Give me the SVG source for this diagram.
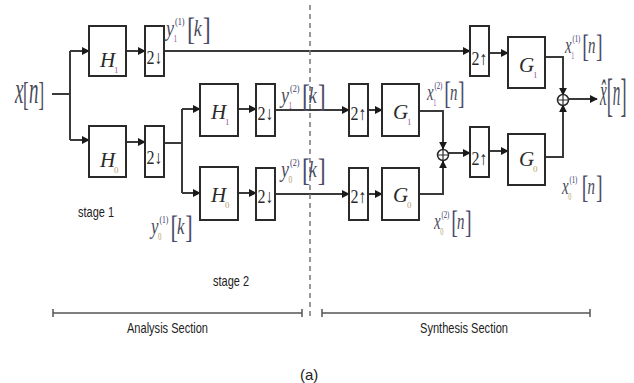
<svg xmlns="http://www.w3.org/2000/svg" width="634" height="383" viewBox="0 0 634 383">
<defs>
<style>
.box{fill:#fff;stroke:#2a2a2a;stroke-width:2}
.ln{fill:none;stroke:#3a3a3a;stroke-width:2}
.sec{fill:none;stroke:#555;stroke-width:1.5}
.H{font-family:"Liberation Serif",serif;font-style:italic;font-size:21px;fill:#2a2a2a}
.sub1{font-family:"Liberation Serif",serif;font-size:9px;fill:#a060a8}
.sub0{font-family:"Liberation Serif",serif;font-size:9px;fill:#b8a070}
.rt{font-family:"Liberation Serif","DejaVu Serif",serif;font-size:19px;fill:#2a2a2a}
.lb{font-family:"Liberation Serif",serif;fill:#4a4a5a}
.it{font-style:italic;font-size:24px}
.bit{font-style:italic;font-size:38px}
.s1{font-size:10px;fill:#a060a8}
.s0{font-size:10px;fill:#b8a070}
.sp{font-size:11px;fill:#3a3a6a}
.bk{font-size:32px;fill:#4a4a6a}
.txt{font-family:"Liberation Sans",sans-serif;font-size:15px;fill:#222}
</style>
<marker id="ar" viewBox="0 0 10 10" refX="9" refY="5" markerWidth="4" markerHeight="4" orient="auto-start-reverse" markerUnits="strokeWidth">
<path d="M0,0 L10,5 L0,10 z" fill="#1a1a1a"/>
</marker>
</defs>
<rect width="634" height="383" fill="#fff"/>

<g id="connectors">
<path class="ln" d="M52,94 H70 M70,51 V140"/>
<path class="ln" d="M70,51 H89" marker-end="url(#ar)"/>
<path class="ln" d="M126,51 H145" marker-end="url(#ar)"/>
<path class="ln" d="M164,51 H470" marker-end="url(#ar)"/>
<path class="ln" d="M489,53 H508" marker-end="url(#ar)"/>
<path class="ln" d="M545,57 H563 V95" marker-end="url(#ar)"/>
<path class="ln" d="M568,99 H597" marker-end="url(#ar)"/>
<path class="ln" d="M70,140 H89" marker-end="url(#ar)"/>
<path class="ln" d="M126,142 H145" marker-end="url(#ar)"/>
<path class="ln" d="M164,143 H182 M182,109 V193"/>
<path class="ln" d="M182,109 H200" marker-end="url(#ar)"/>
<path class="ln" d="M238,109 H256" marker-end="url(#ar)"/>
<path class="ln" d="M275,110 H349" marker-end="url(#ar)"/>
<path class="ln" d="M368,110 H382" marker-end="url(#ar)"/>
<path class="ln" d="M419,111 H443 V149" marker-end="url(#ar)"/>
<path class="ln" d="M182,193 H200" marker-end="url(#ar)"/>
<path class="ln" d="M238,193 H256" marker-end="url(#ar)"/>
<path class="ln" d="M275,194 H349" marker-end="url(#ar)"/>
<path class="ln" d="M368,194 H382" marker-end="url(#ar)"/>
<path class="ln" d="M419,194 H443 V161" marker-end="url(#ar)"/>
<path class="ln" d="M448,153 H470" marker-end="url(#ar)"/>
<path class="ln" d="M489,151 H508" marker-end="url(#ar)"/>
<path class="ln" d="M545,157 H563 V105" marker-end="url(#ar)"/>
</g>

<line x1="310" y1="5" x2="310" y2="316" stroke="#777" stroke-width="1.5" stroke-dasharray="5 4"/>

<g id="H1a"><rect class="box" x="89" y="26" width="37" height="50"/><text class="H" x="100" y="67">H</text><text class="sub1" x="114" y="73">1</text></g>
<g id="D1a"><rect class="box" x="145" y="26" width="19" height="50"/><text class="rt" x="146.5" y="64" textLength="16" lengthAdjust="spacingAndGlyphs">2↓</text></g>
<g id="H0a"><rect class="box" x="89" y="126" width="37" height="51"/><text class="H" x="100" y="167">H</text><text class="sub0" x="114" y="173">0</text></g>
<g id="D0a"><rect class="box" x="145" y="126" width="19" height="51"/><text class="rt" x="146.5" y="164" textLength="16" lengthAdjust="spacingAndGlyphs">2↓</text></g>
<g id="H1b"><rect class="box" x="200" y="84" width="38" height="52"/><text class="H" x="211" y="119">H</text><text class="sub1" x="225" y="125">1</text></g>
<g id="D1b"><rect class="box" x="256" y="84" width="19" height="52"/><text class="rt" x="257.5" y="120" textLength="16" lengthAdjust="spacingAndGlyphs">2↓</text></g>
<g id="H0b"><rect class="box" x="200" y="167" width="38" height="53"/><text class="H" x="211" y="202">H</text><text class="sub0" x="225" y="208">0</text></g>
<g id="D0b"><rect class="box" x="256" y="168" width="19" height="52"/><text class="rt" x="257.5" y="203" textLength="16" lengthAdjust="spacingAndGlyphs">2↓</text></g>
<g id="U1b"><rect class="box" x="349" y="84" width="19" height="52"/><text class="rt" x="350.5" y="120" textLength="16" lengthAdjust="spacingAndGlyphs">2↑</text></g>
<g id="G1b"><rect class="box" x="382" y="84" width="37" height="52"/><text class="H" x="393" y="119">G</text><text class="sub1" x="407" y="125">1</text></g>
<g id="U0b"><rect class="box" x="349" y="168" width="19" height="52"/><text class="rt" x="350.5" y="203" textLength="16" lengthAdjust="spacingAndGlyphs">2↑</text></g>
<g id="G0b"><rect class="box" x="382" y="168" width="37" height="52"/><text class="H" x="393" y="202">G</text><text class="sub0" x="407" y="208">0</text></g>
<g id="sum2"><circle cx="443" cy="155" r="5.5" fill="#fff" stroke="#2a2a2a" stroke-width="1.5"/><path d="M437.5,155 H448.5 M443,149.5 V160.5" stroke="#2a2a2a" stroke-width="1.2"/></g>
<g id="U1a"><rect class="box" x="470" y="26" width="19" height="50"/><text class="rt" x="471.5" y="65" textLength="16" lengthAdjust="spacingAndGlyphs">2↑</text></g>
<g id="G1a"><rect class="box" x="508" y="37" width="37" height="51"/><text class="H" x="519" y="72">G</text><text class="sub1" x="533" y="78">1</text></g>
<g id="U0a"><rect class="box" x="470" y="127" width="19" height="50"/><text class="rt" x="471.5" y="165" textLength="16" lengthAdjust="spacingAndGlyphs">2↑</text></g>
<g id="G0a"><rect class="box" x="508" y="134" width="37" height="51"/><text class="H" x="519" y="166">G</text><text class="sub0" x="533" y="172">0</text></g>
<g id="sum1"><circle cx="563" cy="100" r="5.5" fill="#fff" stroke="#2a2a2a" stroke-width="1.5"/><path d="M557.5,100 H568.5 M563,94.5 V105.5" stroke="#2a2a2a" stroke-width="1.2"/></g>

<g id="labels">
<g transform="translate(15,103) scale(0.5,1)"><text class="lb"><tspan class="bit" x="0" y="0">x</tspan><tspan font-size="34" x="16" y="2">[</tspan><tspan class="bit" x="28" y="0">n</tspan><tspan font-size="34" x="47" y="2">]</tspan></text></g>

<g transform="translate(600,105) scale(0.4,1)"><text class="lb"><tspan class="bit" x="0" y="0">x̂</tspan><tspan font-size="46" x="17" y="6">[</tspan><tspan class="bit" x="32" y="0">n</tspan><tspan font-size="46" x="51" y="6">]</tspan></text></g>

<g transform="translate(166,36) scale(0.75,1)"><text class="lb"><tspan class="it" x="0" y="0">y</tspan><tspan class="s1" x="10" y="6">1</tspan><tspan class="sp" x="12" y="-11">(1)</tspan><tspan class="bk" x="28" y="4">[</tspan><tspan class="it" x="37" y="0">k</tspan><tspan class="bk" x="49" y="4">]</tspan></text></g>

<g transform="translate(281,103) scale(0.75,1)"><text class="lb"><tspan class="it" x="0" y="0">y</tspan><tspan class="s1" x="10" y="6">1</tspan><tspan class="sp" x="12" y="-11">(2)</tspan><tspan class="bk" x="28" y="4">[</tspan><tspan class="it" x="37" y="0">k</tspan><tspan class="bk" x="49" y="4">]</tspan></text></g>

<g transform="translate(281,177) scale(0.75,1)"><text class="lb"><tspan class="it" x="0" y="0">y</tspan><tspan class="s0" x="10" y="6">0</tspan><tspan class="sp" x="12" y="-11">(2)</tspan><tspan class="bk" x="28" y="4">[</tspan><tspan class="it" x="37" y="0">k</tspan><tspan class="bk" x="49" y="4">]</tspan></text></g>

<g transform="translate(151,234) scale(0.7,1)"><text class="lb"><tspan class="it" x="0" y="0">y</tspan><tspan class="s0" x="10" y="6">0</tspan><tspan class="sp" x="12" y="-11">(1)</tspan><tspan class="bk" x="28" y="4">[</tspan><tspan class="it" x="37" y="0">k</tspan><tspan class="bk" x="49" y="4">]</tspan></text></g>

<g transform="translate(565,53) scale(0.62,1)"><text class="lb"><tspan class="it" x="0" y="0">x</tspan><tspan class="s1" x="10" y="6">1</tspan><tspan class="sp" x="12" y="-11">(1)</tspan><tspan class="bk" x="28" y="4">[</tspan><tspan class="it" x="37" y="0">n</tspan><tspan class="bk" x="50" y="4">]</tspan></text></g>

<g transform="translate(427,100) scale(0.62,1)"><text class="lb"><tspan class="it" x="0" y="0">x</tspan><tspan class="s1" x="10" y="6">1</tspan><tspan class="sp" x="12" y="-11">(2)</tspan><tspan class="bk" x="28" y="4">[</tspan><tspan class="it" x="37" y="0">n</tspan><tspan class="bk" x="50" y="4">]</tspan></text></g>

<g transform="translate(434,229) scale(0.62,1)"><text class="lb"><tspan class="it" x="0" y="0">x</tspan><tspan class="s0" x="10" y="6">0</tspan><tspan class="sp" x="12" y="-11">(2)</tspan><tspan class="bk" x="28" y="4">[</tspan><tspan class="it" x="37" y="0">n</tspan><tspan class="bk" x="50" y="4">]</tspan></text></g>

<g transform="translate(562,194) scale(0.62,1)"><text class="lb"><tspan class="it" x="0" y="0">x</tspan><tspan class="s0" x="10" y="6">0</tspan><tspan class="sp" x="12" y="-11">(1)</tspan><tspan class="bk" x="32" y="4">[</tspan><tspan class="it" x="41" y="0">n</tspan><tspan class="bk" x="55" y="4">]</tspan></text></g>
</g>

<text class="txt" x="78" y="217" textLength="36" lengthAdjust="spacingAndGlyphs">stage 1</text>
<text class="txt" x="213" y="286" textLength="36" lengthAdjust="spacingAndGlyphs">stage 2</text>

<g id="analysis">
<path class="sec" d="M53,313 H302 M53,309 V317 M302,309 V317"/>
<text class="txt" x="127" y="333" font-size="16" textLength="81" lengthAdjust="spacingAndGlyphs">Analysis Section</text>
</g>
<g id="synthesis">
<path class="sec" d="M322,313 H590 M322,309 V317 M590,309 V317"/>
<text class="txt" x="420" y="333" font-size="16" textLength="88" lengthAdjust="spacingAndGlyphs">Synthesis Section</text>
</g>
<text class="txt" x="300" y="380" font-size="11">(a)</text>
</svg>
